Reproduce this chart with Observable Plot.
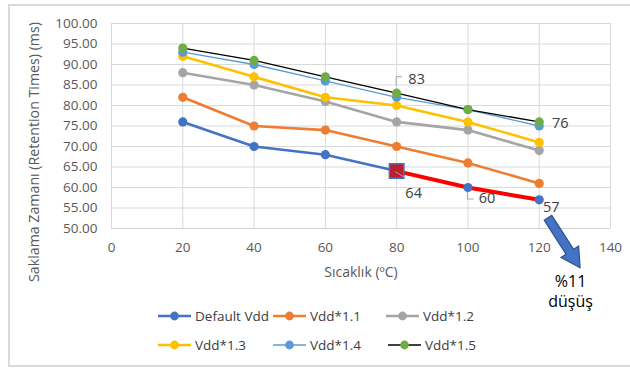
<!DOCTYPE html>
<html>
<head>
<meta charset="utf-8">
<script src="https://cdn.jsdelivr.net/npm/d3@7"></script>
<script src="https://cdn.jsdelivr.net/npm/@observablehq/plot@0.6"></script>
<style>
  body { margin: 0; background: #fff; }
  #chart { position: relative; width: 630px; height: 371px; overflow: hidden; font-family: "Open Sans", sans-serif; }
  #frame { position: absolute; left: 8px; top: 4px; width: 640px; height: 363px; border: 2px solid #dadada; box-sizing: border-box; }
  #chart svg { position: absolute; left: 0; top: 0; }
</style>
</head>
<body>
<div id="chart"><div id="frame"></div></div>
<script>
// Temperatures (°C) and retention times (ms) for each supply voltage
const temps = [20, 40, 60, 80, 100, 120];
const defaultVdd = [76, 70, 68, 64, 60, 57];
const vdd11 = [82, 75, 74, 70, 66, 61];
const vdd12 = [88, 85, 81, 76, 74, 69];
const vdd13 = [92, 87, 82, 80, 76, 71];
const vdd14 = [93, 90, 86, 82, 79, 75];
const vdd15 = [94, 91, 87, 83, 79, 76];
const seriesNames = ["Default Vdd", "Vdd*1.1", "Vdd*1.2", "Vdd*1.3", "Vdd*1.4", "Vdd*1.5"];
const xTicks = [0, 20, 40, 60, 80, 100, 120, 140];
const yTicks = [50, 55, 60, 65, 70, 75, 80, 85, 90, 95, 100];
const dropText = ["%11", "düşüş"];

// Line / marker styling per series
const styles = [
  {line: "#4472c4", marker: "#4472c4", width: 2.6},
  {line: "#ed7d31", marker: "#ed7d31", width: 2.6},
  {line: "#a5a5a5", marker: "#a5a5a5", width: 2.6},
  {line: "#ffc000", marker: "#ffc000", width: 2.6},
  {line: "#5b9bd5", marker: "#5b9bd5", width: 1.3},
  {line: "#000000", marker: "#70ad47", width: 1.3}
];
const allValues = [defaultVdd, vdd11, vdd12, vdd13, vdd14, vdd15];
const series = seriesNames.map((name, k) => ({
  name, ...styles[k],
  rows: temps.map((t, i) => ({t, v: allValues[k][i]}))
}));

const lineMarks = [];
series.forEach((s, k) => {
  lineMarks.push(Plot.line(s.rows, {x: "t", y: "v", stroke: s.line, strokeWidth: s.width}));
  if (k === 0) {
    // highlighted decline of the default supply from 80 °C to 120 °C
    lineMarks.push(Plot.line(s.rows.filter(d => d.t >= 80), {x: "t", y: "v", stroke: "#ff0000", strokeWidth: 4}));
  }
  lineMarks.push(Plot.dot(s.rows, {x: "t", y: "v", r: 4.6, fill: s.marker, stroke: "none"}));
});

const defRows = series[0].rows;
const highRows = series[5].rows;
const labels = [
  {t: highRows[3].t, v: highRows[3].v, dx: 20, dy: -14},
  {t: highRows[5].t, v: highRows[5].v, dx: 21, dy: 1},
  {t: defRows[3].t, v: defRows[3].v, dx: 17, dy: 22},
  {t: defRows[4].t, v: defRows[4].v, dx: 19, dy: 11},
  {t: defRows[5].t, v: defRows[5].v, dx: 12, dy: 8}
];

const plot = Plot.plot({
  width: 630,
  height: 371,
  marginLeft: 111,
  marginRight: 20,
  marginTop: 23,
  marginBottom: 143,
  style: {background: "transparent", fontFamily: "Open Sans, sans-serif", overflow: "visible"},
  x: {domain: [0, 140]},
  y: {domain: [50, 100]},
  marks: [
    Plot.gridX(xTicks, {stroke: "#d9d9d9", strokeOpacity: 1, strokeWidth: 1}),
    Plot.gridY(yTicks, {stroke: "#d9d9d9", strokeOpacity: 1, strokeWidth: 1}),
    Plot.ruleY([50], {stroke: "#d0d0d0", strokeWidth: 1.2}),
    Plot.axisX(xTicks, {tickSize: 0, tickPadding: 14, fontSize: 13.5, fill: "#595959", label: null}),
    Plot.axisY(yTicks, {tickSize: 0, tickPadding: 14, fontSize: 13.5, fill: "#595959", tickFormat: d3.format(".2f"), label: null}),
    ...lineMarks,
    Plot.dot([defRows[3]], {x: "t", y: "v", symbol: "square", r: 8.2, fill: "#be1e2d", stroke: "#4472c4", strokeWidth: 1.5}),
    ...labels.map(l => Plot.text([l], {x: "t", y: "v", text: d => String(d.v), dx: l.dx, dy: l.dy, fontSize: 14.5, fill: "#404040"})),
    Plot.text([{t: 128.8, v: 37, s: dropText[0]}, {t: 128.8, v: 32, s: dropText[1]}], {x: "t", y: "v", text: "s", fontSize: 16, fill: "#000"})
  ]
});

document.getElementById("chart").appendChild(plot);

const svg = d3.select(plot);
const xs = plot.scale("x"), ys = plot.scale("y");
const px = v => xs.apply(v), py = v => ys.apply(v);

// leader lines for the data labels
const leader = (t, v, pts) => {
  svg.append("polyline")
    .attr("points", pts.map(([dx, dy]) => `${px(t) + dx},${py(v) + dy}`).join(" "))
    .attr("fill", "none").attr("stroke", "#a6a6a6").attr("stroke-width", 1);
};
leader(highRows[3].t, highRows[3].v, [[0, -7], [0, -16], [6, -16]]);
leader(defRows[4].t, defRows[4].v, [[0, 5], [0, 12], [6, 12]]);
leader(defRows[3].t, defRows[3].v, [[-1, 1], [9, 7]]);

// block arrow pointing to the drop annotation
(() => {
  const x0 = px(122.6), y0 = py(52.5), x1 = px(131.6), y1 = py(40.3);
  const dx = x1 - x0, dy = y1 - y0, len = Math.hypot(dx, dy);
  const ux = dx / len, uy = dy / len, nx = -uy, ny = ux;
  const head = 19, sw = 4.5, hw = 10.5;
  const bx = x1 - ux * head, by = y1 - uy * head;
  const pts = [
    [x0 + nx * sw, y0 + ny * sw], [bx + nx * sw, by + ny * sw], [bx + nx * hw, by + ny * hw],
    [x1, y1],
    [bx - nx * hw, by - ny * hw], [bx - nx * sw, by - ny * sw], [x0 - nx * sw, y0 - ny * sw]
  ];
  svg.append("polygon").attr("points", pts.map(p => p.join(",")).join(" "))
    .attr("fill", "#4472c4").attr("stroke", "#2f528f").attr("stroke-width", 1.2);
})();

// axis titles
svg.append("text").attr("x", 361).attr("y", 277).attr("text-anchor", "middle")
  .attr("font-size", 14).attr("fill", "#595959").text("Sıcaklık (ºC)");
svg.append("text").attr("transform", "translate(39,152) rotate(-90)").attr("text-anchor", "middle")
  .attr("font-size", 14.2).attr("fill", "#595959").text("Saklama Zamanı (Retention Times) (ms)");

// legend
const legendPos = [[158, 316], [273, 316], [386, 316], [158, 345], [273, 345], [388, 345]];
series.forEach((s, k) => {
  const [lx, ly] = legendPos[k];
  const g = svg.append("g");
  g.append("line").attr("x1", lx).attr("x2", lx + 33).attr("y1", ly).attr("y2", ly)
    .attr("stroke", s.line).attr("stroke-width", s.width);
  g.append("circle").attr("cx", lx + 16.5).attr("cy", ly).attr("r", 4.4).attr("fill", s.marker);
  g.append("text").attr("x", lx + 37).attr("y", ly).attr("dy", "0.35em").attr("text-anchor", "start")
    .attr("font-size", 13.5).attr("fill", "#404040").text(s.name);
});
</script>
</body>
</html>
